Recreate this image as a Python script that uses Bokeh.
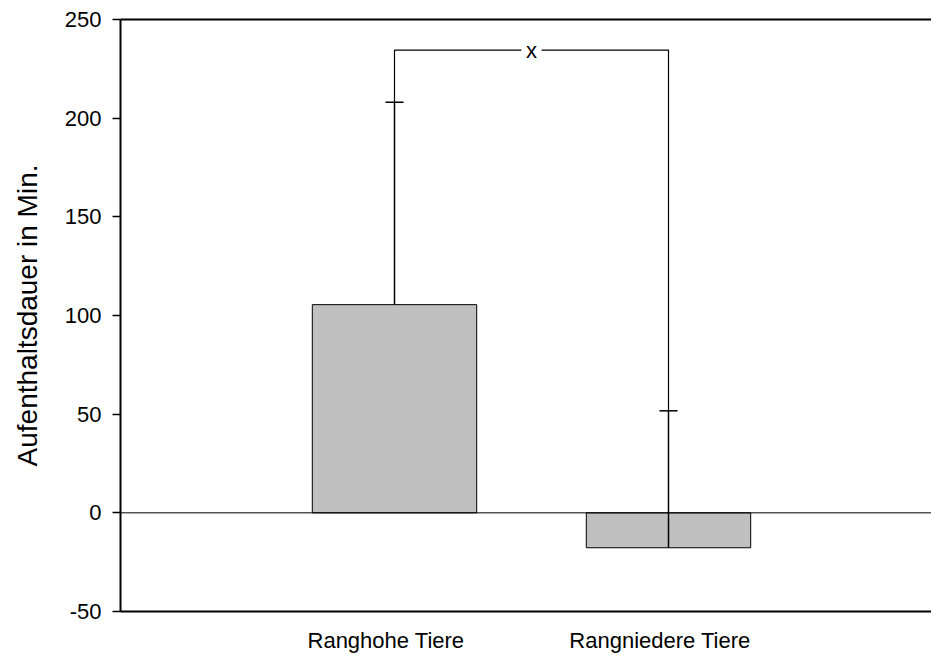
from bokeh.plotting import figure
from bokeh.models import Range1d, FixedTicker, LinearAxis, CustomJSTickFormatter, Span
from bokeh.embed import file_html
from bokeh.resources import INLINE
from bokeh.core.properties import value

# Mean duration of stay per group, with standard deviation (minutes)
categories = ["Ranghohe Tiere", "Rangniedere Tiere"]
means = [105.5, -17.7]
sd = [102.6, 69.4]
y_ticks = [-50, 0, 50, 100, 150, 200, 250]
bracket_y = 234.5
bracket_label = "x"

FONT = "Liberation Sans"
xs = [i + 1 for i in range(len(categories))]
upper = [m + s for m, s in zip(means, sd)]

p = figure(
    frame_width=811, frame_height=592,
    min_border_left=120, min_border_right=0,
    min_border_top=19, min_border_bottom=45,
    x_range=Range1d(0, 811 / 274), y_range=Range1d(-50, 250),
    output_backend="svg", toolbar_location=None,
)
p.outline_line_color = None
p.xgrid.visible = False
p.ygrid.visible = False
p.background_fill_color = "white"
p.border_fill_color = "white"

# zero reference line
p.add_layout(Span(location=0, dimension="width", line_color="black", line_width=1))

# bars
p.vbar(x=xs, bottom=0, top=means, width=0.6,
       fill_color="#c0c0c0", line_color="black", line_width=1)

# error bars (upper side only) with caps
cap = 0.033
p.segment(x0=xs, y0=means, x1=xs, y1=upper, line_color="black", line_width=1.5)
p.segment(x0=[x - cap for x in xs], y0=upper, x1=[x + cap for x in xs], y1=upper,
          line_color="black", line_width=1.5)

# significance bracket between the two groups
mid = (xs[0] + xs[1]) / 2
gap = 0.037
p.multi_line(
    xs=[[xs[0], xs[0], mid - gap], [mid + gap, xs[1], xs[1]]],
    ys=[[upper[0], bracket_y, bracket_y], [bracket_y, bracket_y, upper[1]]],
    line_color="black", line_width=1.2,
)
p.text(x=[mid], y=[bracket_y], text=[bracket_label], text_align="center",
       text_baseline="middle", text_font=value(FONT), text_font_size="22px",
       text_color="black")

# y axis
ya = p.yaxis[0]
ya.ticker = FixedTicker(ticks=y_ticks)
ya.formatter = CustomJSTickFormatter(code="return String(Math.round(tick));")
ya.major_tick_out = 8
ya.major_tick_in = 0
ya.minor_tick_line_color = None
ya.major_tick_line_width = 1.5
ya.major_tick_line_color = "black"
ya.axis_line_width = 2
ya.axis_line_color = "black"
ya.major_label_text_font = FONT
ya.major_label_text_font_size = "22px"
ya.major_label_text_color = "black"
ya.major_label_standoff = 11
ya.axis_label = "Aufenthaltsdauer in Min."
ya.axis_label_text_font = FONT
ya.axis_label_text_font_size = "28px"
ya.axis_label_text_font_style = "normal"
ya.axis_label_text_color = "black"
ya.axis_label_standoff = 19

# x axis: category names
xa = p.xaxis[0]
xa.ticker = FixedTicker(ticks=[x - 0.031 for x in xs])
xa.formatter = CustomJSTickFormatter(args=dict(names=categories),
                                     code="return names[Math.round(tick) - 1];")
xa.major_tick_out = 0
xa.major_tick_in = 0
xa.minor_tick_line_color = None
xa.axis_line_width = 2
xa.axis_line_color = "black"
xa.major_label_text_font = FONT
xa.major_label_text_font_size = "22px"
xa.major_label_text_color = "black"
xa.major_label_standoff = 16

# top frame line
top = LinearAxis(ticker=FixedTicker(ticks=[]), major_tick_out=0, major_tick_in=0,
                 minor_tick_line_color=None, major_label_text_font_size="0px",
                 axis_line_width=2, axis_line_color="black")
p.add_layout(top, "above")

open("out.html", "w").write(file_html(p, INLINE))
